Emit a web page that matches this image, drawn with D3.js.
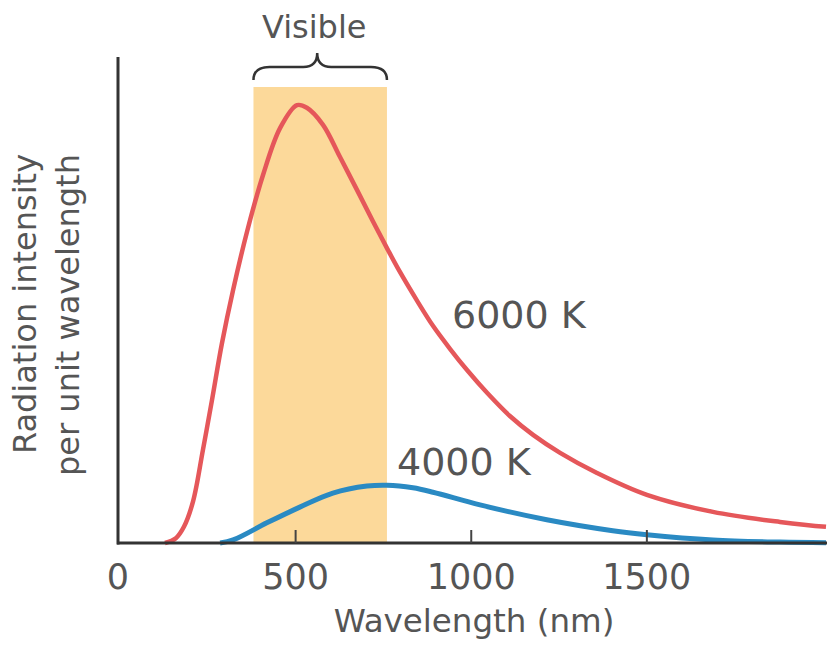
<!DOCTYPE html>
<meta charset="utf-8">
<script src="https://d3js.org/d3.v7.min.js"></script>
<style>
  body { margin: 0; background: #fff; }
  text { font-family: "DejaVu Sans", sans-serif; fill: #555; }
</style>
<div id="chart"></div>
<script>
// wavelength in nm, intensity in arbitrary units (6000 K peak = 100)
const red6000Wl = [128, 159, 182, 208, 236, 262, 290, 322, 362, 407, 456, 504, 532, 578, 626, 675, 720, 763, 797, 846, 891, 940, 988, 1045, 1110, 1176, 1253, 1358, 1500, 1688, 1879, 2010];
const red6000Val = [0, 1.1, 3.7, 9.5, 21.2, 32.7, 45.5, 57.8, 71.2, 84.0, 94.8, 100, 99.4, 95.5, 88.2, 80.6, 73.5, 66.9, 61.9, 55.3, 49.6, 44.3, 39.5, 34.3, 29.0, 24.7, 20.6, 16.0, 11.0, 7.1, 4.8, 3.7];

const blue4000Wl = [285, 322, 418, 512, 606, 703, 760, 834, 891, 1025, 1215, 1403, 1500, 1688, 1879, 2010];
const blue4000Val = [0, 0.7, 4.6, 8.2, 11.4, 13.0, 13.2, 12.6, 11.6, 8.7, 5.3, 2.8, 1.9, 0.7, 0.2, 0.05];

const visibleBand = [380, 760];
const xTicks = [0, 500, 1000, 1500];

const W = 827, H = 663;
const svg = d3.select("#chart").append("svg")
  .attr("width", W).attr("height", H);

const x = d3.scaleLinear().domain([0, 2010]).range([120, 826]);
const y = d3.scaleLinear().domain([0, 111]).range([543, 57]);

// visible band
svg.append("rect")
  .attr("x", x(visibleBand[0]))
  .attr("y", 87)
  .attr("width", x(visibleBand[1]) - x(visibleBand[0]))
  .attr("height", y(0) - 87)
  .attr("fill", "#fcd99a");

// brace over band
const bx0 = x(visibleBand[0]), bx1 = x(visibleBand[1]);
const bm = (bx0 + bx1) / 2 - 3;
svg.append("path")
  .attr("d", `M${bx0},80 Q${bx0},67 ${bx0 + 16},67 L${bm - 14},67 Q${bm},67 ${bm},53 Q${bm},67 ${bm + 14},67 L${bx1 - 16},67 Q${bx1},67 ${bx1},80`)
  .attr("fill", "none").attr("stroke", "#333").attr("stroke-width", 2.5);

svg.append("text")
  .attr("x", bm - 3).attr("y", 38)
  .attr("text-anchor", "middle")
  .style("font-size", "32px")
  .text("Visible");

// curves
const line = d3.line()
  .x(d => x(d[0]))
  .y(d => y(d[1]))
  .curve(d3.curveCatmullRom.alpha(0.5));

svg.append("path")
  .datum(d3.zip(blue4000Wl, blue4000Val))
  .attr("d", line)
  .attr("fill", "none").attr("stroke", "#2a8ac3").attr("stroke-width", 5);

svg.append("path")
  .datum(d3.zip(red6000Wl, red6000Val))
  .attr("d", line)
  .attr("fill", "none").attr("stroke", "#e5575a").attr("stroke-width", 4.5);

// axes
svg.append("line")
  .attr("x1", 118).attr("x2", 118).attr("y1", 57).attr("y2", y(0) + 1.5)
  .attr("stroke", "#333").attr("stroke-width", 3);
svg.append("line")
  .attr("x1", 117).attr("x2", W).attr("y1", y(0)).attr("y2", y(0))
  .attr("stroke", "#333").attr("stroke-width", 3);

svg.selectAll(".tick")
  .data(xTicks.filter(d => d > 0))
  .join("line")
  .attr("x1", d => x(d)).attr("x2", d => x(d))
  .attr("y1", y(0)).attr("y2", y(0) - 13)
  .attr("stroke", "#444").attr("stroke-width", 2);

svg.selectAll(".tlabel")
  .data(xTicks)
  .join("text")
  .attr("x", d => d === 0 ? 118 : x(d))
  .attr("y", 589)
  .attr("text-anchor", "middle")
  .style("font-size", "35px")
  .text(d => d);

svg.append("text")
  .attr("x", 474).attr("y", 632)
  .attr("text-anchor", "middle")
  .style("font-size", "32.5px")
  .text("Wavelength (nm)");

svg.append("text")
  .attr("transform", "translate(36,304) rotate(-90)")
  .attr("text-anchor", "middle")
  .style("font-size", "32px")
  .text("Radiation intensity");
svg.append("text")
  .attr("transform", "translate(79,315) rotate(-90)")
  .attr("text-anchor", "middle")
  .style("font-size", "32px")
  .text("per unit wavelength");

// curve labels
svg.append("text")
  .attr("x", 452).attr("y", 328)
  .style("font-size", "38px")
  .text("6000 K");
svg.append("text")
  .attr("x", 397).attr("y", 475)
  .style("font-size", "38px")
  .text("4000 K");
</script>
